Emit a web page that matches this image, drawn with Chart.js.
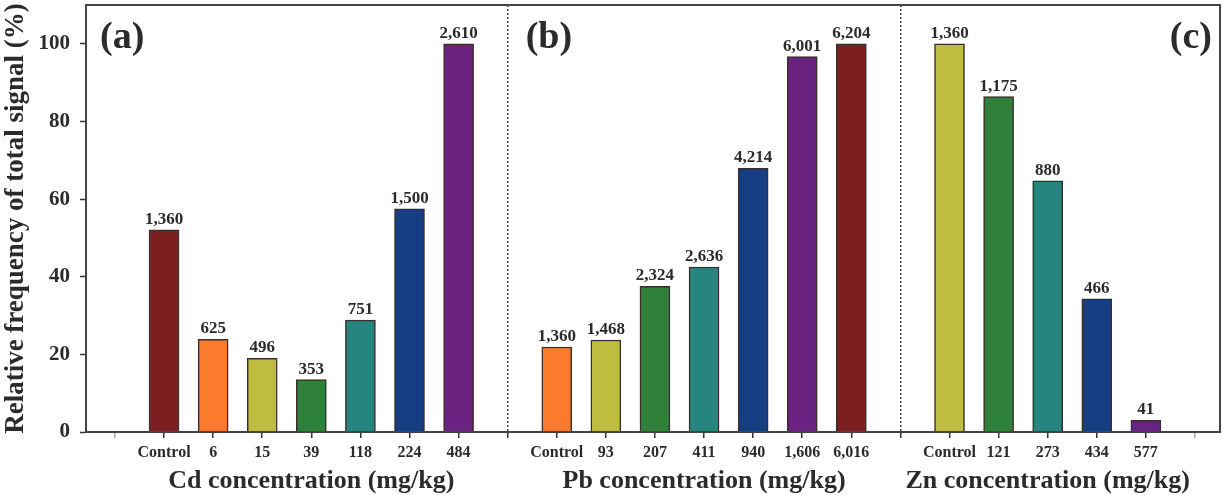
<!DOCTYPE html>
<html>
<head>
<meta charset="utf-8">
<script src="https://cdn.jsdelivr.net/npm/chart.js@4"></script>
<style>
  html, body { margin: 0; padding: 0; background: #fff; }
</style>
</head>
<body>
<canvas id="chart" width="1223" height="495"></canvas>
<script>
// Tick labels along the shared x axis (empty slots are the gaps / panel separators)
const xTickLabels = ['', 'Control', '6', '15', '39', '118', '224', '484', '',
  'Control', '93', '207', '411', '940', '1,606', '6,016', '',
  'Control', '121', '273', '434', '577', ''];

// Slot of each bar on the x axis
const cdSlots = [1, 2, 3, 4, 5, 6, 7];
const pbSlots = [9, 10, 11, 12, 13, 14, 15];
const znSlots = [17, 18, 19, 20, 21];

// Relative frequency of total signal (%)
const cdValues = [52.1, 23.9, 19.0, 13.5, 28.8, 57.5, 100];
const pbValues = [21.9, 23.7, 37.5, 42.5, 67.9, 96.7, 100];
const znValues = [100, 86.4, 64.7, 34.3, 3.0];

// Signal counts printed above the bars
const cdCounts = ['1,360', '625', '496', '353', '751', '1,500', '2,610'];
const pbCounts = ['1,360', '1,468', '2,324', '2,636', '4,214', '6,001', '6,204'];
const znCounts = ['1,360', '1,175', '880', '466', '41'];

const yTicks = [0, 20, 40, 60, 80, 100];
const separatorSlots = [8, 16];
const panelLetters = ['(a)', '(b)', '(c)'];
const panelTitles = ['Cd concentration (mg/kg)', 'Pb concentration (mg/kg)', 'Zn concentration (mg/kg)'];

// Bar colours
const darkRed = '#7d1f20';
const orange = '#fb7a2b';
const olive = '#bebd3f';
const green = '#2f813a';
const teal = '#27857f';
const navy = '#163f83';
const purple = '#6a2281';

const cdColors = [darkRed, orange, olive, green, teal, navy, purple];
const pbColors = [orange, olive, green, teal, navy, purple, darkRed];
const znColors = [olive, green, teal, navy, purple];

const serif = "'Liberation Serif', 'Times New Roman', serif";
const textColor = '#2b2b2b';

function makeDataset(slots, values, colors, counts) {
    return {
        data: slots.map((x, i) => ({ x: x, y: values[i] })),
        backgroundColor: colors,
        borderColor: '#3a2d2d',
        borderWidth: 1.5,
        barThickness: 30,
        grouped: false,
        counts: counts
    };
}

// Count labels above each bar
const countLabels = {
    id: 'countLabels',
    afterDatasetsDraw(chart) {
        const ctx = chart.ctx;
        ctx.save();
        ctx.font = 'bold 17px ' + serif;
        ctx.fillStyle = textColor;
        ctx.textAlign = 'center';
        ctx.textBaseline = 'alphabetic';
        chart.data.datasets.forEach((ds, di) => {
            chart.getDatasetMeta(di).data.forEach((bar, i) => {
                ctx.fillText(ds.counts[i], bar.x, bar.y - 6);
            });
        });
        ctx.restore();
    }
};

// Frame, panel letters and per-panel axis titles
const panelDecor = {
    id: 'panelDecor',
    afterDraw(chart) {
        const ctx = chart.ctx;
        const area = chart.chartArea;
        const xs = chart.scales.x;
        ctx.save();
        ctx.strokeStyle = '#444';
        ctx.lineWidth = 2;
        ctx.strokeRect(area.left, area.top, area.right - area.left, area.bottom - area.top);

        ctx.fillStyle = textColor;
        ctx.font = 'bold 38px ' + serif;
        ctx.textBaseline = 'alphabetic';
        ctx.textAlign = 'left';
        ctx.fillText(panelLetters[0], area.left + 14, area.top + 43);
        ctx.fillText(panelLetters[1], xs.getPixelForValue(separatorSlots[0]) + 18, area.top + 43);
        ctx.textAlign = 'right';
        ctx.fillText(panelLetters[2], area.right - 8, area.top + 43);

        ctx.font = 'bold 26px ' + serif;
        ctx.textAlign = 'center';
        [cdSlots, pbSlots, znSlots].forEach((slots, i) => {
            const mid = (slots[0] + slots[slots.length - 1]) / 2;
            ctx.fillText(panelTitles[i], xs.getPixelForValue(mid), area.bottom + 56);
        });
        ctx.restore();
    }
};

function noEdgePadding(axis) {
    axis.paddingTop = 0;
    axis.paddingBottom = 0;
    axis.paddingLeft = 0;
    axis.paddingRight = 0;
}

new Chart(document.getElementById('chart'), {
    type: 'bar',
    data: {
        datasets: [
            makeDataset(cdSlots, cdValues, cdColors, cdCounts),
            makeDataset(pbSlots, pbValues, pbColors, pbCounts),
            makeDataset(znSlots, znValues, znColors, znCounts)
        ]
    },
    options: {
        responsive: false,
        animation: false,
        layout: { padding: { top: 5, right: 3, left: 0, bottom: 0 } },
        plugins: {
            legend: { display: false },
            tooltip: { enabled: false }
        },
        scales: {
            x: {
                type: 'linear',
                min: -0.59,
                max: 22.51,
                offset: false,
                afterBuildTicks: axis => {
                    axis.ticks = xTickLabels.map((_, i) => ({ value: i }));
                },
                afterFit: axis => { axis.height = 63; noEdgePadding(axis); },
                ticks: {
                    autoSkip: false,
                    maxRotation: 0,
                    padding: 5,
                    color: textColor,
                    font: { family: serif, size: 16, weight: 'bold' },
                    callback: value => xTickLabels[value] || ''
                },
                grid: {
                    offset: false,
                    drawOnChartArea: true,
                    lineWidth: 1.5,
                    color: c => (c.tick && separatorSlots.includes(c.tick.value)) ? '#444' : 'rgba(0,0,0,0)',
                    tickColor: c => (c.tick && (c.tick.value === 0 || c.tick.value === xTickLabels.length - 1)) ? '#aaa' : '#333',
                    tickLength: 6,
                    tickWidth: 1.5
                },
                border: { color: '#333', width: 2, dash: [2, 2] }
            },
            y: {
                min: 0,
                max: 110,
                afterBuildTicks: axis => {
                    axis.ticks = yTicks.map(v => ({ value: v }));
                },
                afterFit: axis => { axis.width = 86; noEdgePadding(axis); },
                ticks: {
                    padding: 10,
                    color: textColor,
                    font: { family: serif, size: 21, weight: 'bold' }
                },
                grid: {
                    drawOnChartArea: false,
                    tickLength: 6,
                    tickWidth: 1.5,
                    tickColor: '#333'
                },
                border: { color: '#333', width: 2 },
                title: {
                    display: true,
                    text: 'Relative frequency of total signal (%)',
                    color: textColor,
                    padding: 0,
                    font: { family: serif, size: 27, weight: 'bold' }
                }
            }
        }
    },
    plugins: [countLabels, panelDecor]
});
</script>
</body>
</html>
